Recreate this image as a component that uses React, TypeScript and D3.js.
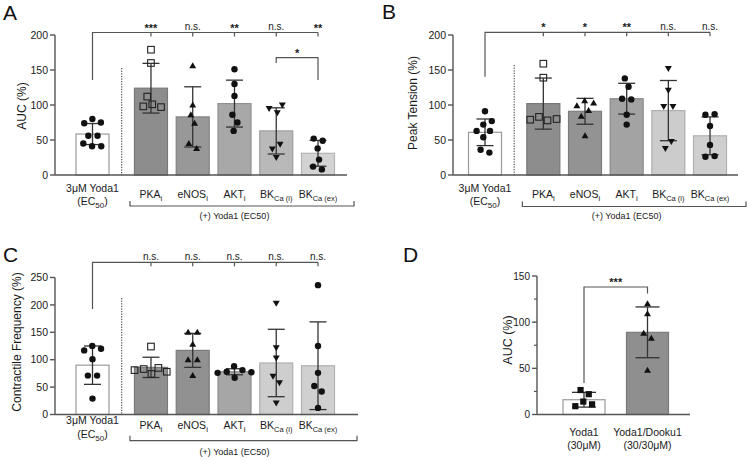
import React from 'react';
import * as d3 from 'd3';

const FONT = "'Liberation Sans', Arial, Helvetica, sans-serif";

// ---------- shared categories (panels A-C) ----------
const catMain = ['PKA', 'eNOS', 'AKT', 'BK', 'BK'];
const catSub = ['i', 'i', 'i', 'Ca (i)', 'Ca (ex)'];
const ctrlLine1 = '3μM Yoda1';
const ctrlLine2 = ['(EC', '50', ')'];
const groupLabel = '(+) Yoda1 (EC50)';
const markersABC = ['circle', 'squareOpen', 'triangle', 'circle', 'triangleDown', 'circle'];

// ---------- Panel A : AUC ----------
const aMeans = [58.5, 124, 83, 102, 63, 31];
const aSD = [15, 35.5, 43, 33.5, 33, 18.5];
const aPts = [
  [80, 74, 75, 56, 56, 41, 45, 41],
  [179, 160, 112, 101, 97, 98],
  [156, 100, 86, 74, 45, 38],
  [151, 130, 113, 86, 75, 63],
  [95, 100, 89, 44, 37, 25],
  [52, 49, 38, 22, 12, 8],
];
const aSig = ['***', 'n.s.', '**', 'n.s.', '**'];
const aTicks = [0, 50, 100, 150, 200];

// ---------- Panel B : Peak Tension ----------
const bMeans = [61, 102, 91, 109, 92, 56];
const bSD = [19, 36.5, 18.5, 22, 43, 27];
const bPts = [
  [91, 77, 72, 63, 63, 54, 32, 36],
  [159, 139, 78, 83, 79, 80],
  [106, 103, 99, 92, 84, 56],
  [138, 126, 109, 108, 86, 72],
  [152, 121, 98, 98, 48, 38],
  [86, 87, 70, 43, 26, 27],
];
const bSig = ['*', '*', '**', 'n.s.', 'n.s.'];
const bTicks = [0, 50, 100, 150, 200];

// ---------- Panel C : Contractile Frequency ----------
const cMeans = [90, 86, 117, 78, 94, 89];
const cSD = [35, 18.5, 31, 5.5, 61.5, 80];
const cPts = [
  [125, 120, 117, 101, 71, 71, 29],
  [124, 85, 74, 83, 78, 81],
  [150, 150, 128, 100, 100, 71],
  [78, 67, 81, 76, 88, 77],
  [203, 122, 103, 70, 58, 21],
  [236, 125, 76, 52, 42, 12],
];
const cSig = ['n.s.', 'n.s.', 'n.s.', 'n.s.', 'n.s.'];
const cTicks = [0, 50, 100, 150, 200, 250];

// ---------- Panel D : AUC ----------
const dCats = ['Yoda1', 'Yoda1/Dooku1'];
const dCats2 = ['(30μM)', '(30/30μM)'];
const dMeans = [16, 89];
const dSD = [8, 27.5];
const dPts = [
  [26.5, 22, 14, 9, 11],
  [120, 109, 88, 82.5, 48],
];
const dSig = '***';
const dTicks = [0, 50, 100, 150];
const dMinor = [25, 75, 125];
const markersD = ['square', 'triangle'];

// ---------- styles ----------
const AXIS = '#555';
const INK = '#111';
const TXT = '#1a1a1a';
const fillsA = ['#ffffff', '#8d8d8d', '#989898', '#a8a8a8', '#b9b9b9', '#d3d3d3'];
const fillsB = ['#ffffff', '#8d8d8d', '#939393', '#a3a3a3', '#cccccc', '#cfcfcf'];
const fillsC = ['#ffffff', '#8f8f8f', '#919191', '#a6a6a6', '#cecece', '#d0d0d0'];
const fillsD = ['#ffffff', '#8f8f8f'];
const slotsABC = [0, 1.4, 2.4, 3.4, 4.4, 5.4];

function strokeFor(fill: string) {
  if (fill === '#ffffff') return '#9a9a9a';
  const c = d3.color(fill)!;
  return c.darker(0.45).formatHex();
}

function swarm(vals: number[], cx: number, y: (v: number) => number, r: number) {
  const nodes: any[] = vals.map((v, i) => ({ i, v, x: cx, y: y(v), fy: y(v) }));
  const sim = d3
    .forceSimulation(nodes)
    .force('x', d3.forceX(cx).strength(0.12))
    .force('c', d3.forceCollide(r))
    .stop();
  for (let k = 0; k < 300; k++) sim.tick();
  return nodes;
}

const triPath = d3.symbol(d3.symbolTriangle, 21)()!;

function Marker({ type, x, y }: { type: string; x: number; y: number }) {
  if (type === 'circle') return <circle cx={x} cy={y} r={3.2} fill={INK} />;
  if (type === 'square') return <rect x={x - 3.1} y={y - 3.1} width={6.2} height={6.2} fill={INK} />;
  if (type === 'squareOpen')
    return <rect x={x - 3.3} y={y - 3.3} width={6.6} height={6.6} fill="none" stroke="#222" strokeWidth={1.1} />;
  if (type === 'triangle') return <path d={triPath} transform={`translate(${x},${y + 0.5})`} fill={INK} />;
  return <path d={triPath} transform={`translate(${x},${y - 0.5}) rotate(180)`} fill={INK} />;
}

function BarsAndPoints({ means, sd, pts, xs, bw, y, y0, fills, markers, cap }: any) {
  return (
    <g>
      {means.map((m: number, i: number) => (
        <rect key={'b' + i} x={xs[i] - bw / 2} y={y(m)} width={bw} height={y0 - y(m)} fill={fills[i]} stroke={strokeFor(fills[i])} strokeWidth={1.2} />
      ))}
      {means.map((m: number, i: number) => {
        const t = y(m + sd[i]);
        const b = y(Math.max(0, m - sd[i]));
        return (
          <g key={'e' + i} stroke="#333" strokeWidth={1.3}>
            <line x1={xs[i]} x2={xs[i]} y1={t} y2={b} />
            <line x1={xs[i] - cap / 2} x2={xs[i] + cap / 2} y1={t} y2={t} />
            <line x1={xs[i] - cap / 2} x2={xs[i] + cap / 2} y1={b} y2={b} />
          </g>
        );
      })}
      {pts.map((vals: number[], i: number) =>
        swarm(vals, xs[i], y, 4.6).map((n: any, j: number) => <Marker key={i + '-' + j} type={markers[i]} x={n.x} y={n.y} />)
      )}
    </g>
  );
}

function YAxis({ ticks, minor, y, axisX, y0, fontSize }: any) {
  const top = y(ticks[ticks.length - 1]);
  return (
    <g>
      <line x1={axisX} x2={axisX} y1={top} y2={y0} stroke={AXIS} strokeWidth={1.4} />
      {ticks.map((t: number) => (
        <g key={t}>
          <line x1={axisX - 5} x2={axisX} y1={y(t)} y2={y(t)} stroke={AXIS} strokeWidth={1.4} />
          <text x={axisX - 7} y={y(t)} dy="0.35em" textAnchor="end" fontSize={fontSize} fill={TXT}>
            {t}
          </text>
        </g>
      ))}
      {(minor || []).map((t: number) => (
        <line key={'m' + t} x1={axisX - 3} x2={axisX} y1={y(t)} y2={y(t)} stroke={AXIS} strokeWidth={1.2} />
      ))}
    </g>
  );
}

function SigText({ x, y, s }: any) {
  const star = s !== 'n.s.';
  return (
    <text x={x} y={star ? y + 1.5 : y} textAnchor="middle" fontSize={star ? 11 : 10} fontWeight={star ? 'bold' : 'normal'} fill={TXT}>
      {s}
    </text>
  );
}

function PanelABC({ cfg }: any) {
  const y = d3.scaleLinear().domain([0, cfg.yMax]).range([cfg.y0, cfg.yTop]);
  const x = d3.scaleLinear().domain([0, 1]).range([cfg.xFirst, cfg.xFirst + cfg.step]);
  const xs = slotsABC.map((s) => x(s));
  const sigY = cfg.sigY;
  return (
    <g>
      <text x={cfg.letterX} y={cfg.letterY} fontSize={21} fill="#111">
        {cfg.letter}
      </text>
      <YAxis ticks={cfg.ticks} y={y} axisX={cfg.axisX} y0={cfg.y0} fontSize={10.5} />
      <text transform={`translate(${cfg.ylabX},${cfg.ylabY}) rotate(-90)`} textAnchor="middle" dy="0.35em" fontSize={12} fill={TXT}>
        {cfg.ylab}
      </text>
      <BarsAndPoints means={cfg.means} sd={cfg.sd} pts={cfg.pts} xs={xs} bw={33} y={y} y0={cfg.y0} fills={cfg.fills} markers={markersABC} cap={17} />
      <line x1={cfg.axisX} x2={cfg.xEnd} y1={cfg.y0} y2={cfg.y0} stroke={AXIS} strokeWidth={1.5} />
      <line x1={x(0.7)} x2={x(0.7)} y1={cfg.dotTop} y2={cfg.y0} stroke="#333" strokeWidth={1} strokeDasharray="1.3,1.3" />
      {/* significance bracket */}
      <g stroke={AXIS} strokeWidth={1.2} fill="none">
        <path d={`M${xs[0]},${cfg.sigLeftBottom}V${sigY}H${xs[5]}`} />
        {xs.slice(1).map((xx, i) => (
          <line key={i} x1={xx} x2={xx} y1={sigY} y2={sigY + 4} />
        ))}
      </g>
      {cfg.sig.map((s: string, i: number) => (
        <SigText key={i} x={xs[i + 1]} y={sigY - 2.5} s={s} />
      ))}
      {cfg.extra && (
        <g>
          <path d={`M${xs[4]},${cfg.extra.lb}V${cfg.extra.y}H${xs[5]}V${cfg.extra.rb}`} stroke={AXIS} strokeWidth={1.2} fill="none" />
          <SigText x={(xs[4] + xs[5]) / 2} y={cfg.extra.y - 2.5} s={cfg.extra.label} />
        </g>
      )}
      {/* x labels */}
      <text x={xs[0]} y={cfg.l1} textAnchor="middle" fontSize={10.5} fill={TXT}>
        {ctrlLine1}
      </text>
      <text x={xs[0]} y={cfg.l2} textAnchor="middle" fontSize={10.5} fill={TXT}>
        <tspan>{ctrlLine2[0]}</tspan>
        <tspan dy={3} fontSize={8}>{ctrlLine2[1]}</tspan>
        <tspan dy={-3}>{ctrlLine2[2]}</tspan>
      </text>
      {catMain.map((c, i) => (
        <text key={c + i} x={xs[i + 1]} y={cfg.lc} textAnchor="middle" fontSize={10.5} fill={TXT}>
          <tspan>{c}</tspan>
          <tspan dy={3} fontSize={catSub[i].length > 1 ? 7.5 : 8}>{catSub[i]}</tspan>
        </text>
      ))}
      <path d={`M${xs[1] - 21},${cfg.brY - 5}V${cfg.brY}H${xs[5] + cfg.brRight}V${cfg.brY - 5}`} stroke={AXIS} strokeWidth={1.2} fill="none" />
      <text x={(xs[1] + xs[5]) / 2} y={cfg.gl} textAnchor="middle" fontSize={9} fill={TXT}>
        {groupLabel}
      </text>
    </g>
  );
}

function PanelD() {
  const y0 = 414.5;
  const y = d3.scaleLinear().domain([0, 150]).range([y0, 276]);
  const x = d3.scaleLinear().domain([0, 1]).range([584, 647.5]);
  const xs = [x(0), x(1)];
  const axisX = 537;
  return (
    <g>
      <text x={403} y={262} fontSize={21} fill="#111">D</text>
      <YAxis ticks={dTicks} minor={dMinor} y={y} axisX={axisX} y0={y0} fontSize={10} />
      <text transform={`translate(${508},${340}) rotate(-90)`} textAnchor="middle" dy="0.35em" fontSize={12.5} fill={TXT}>
        AUC (%)
      </text>
      <BarsAndPoints means={dMeans} sd={dSD} pts={dPts} xs={xs} bw={42} y={y} y0={y0} fills={fillsD} markers={markersD} cap={24} />
      <line x1={axisX} x2={690} y1={y0} y2={y0} stroke={AXIS} strokeWidth={1.5} />
      <path d={`M${xs[0]},383V287H${xs[1]}V293.5`} stroke={AXIS} strokeWidth={1.2} fill="none" />
      <SigText x={(xs[0] + xs[1]) / 2} y={284} s={dSig} />
      {dCats.map((c, i) => (
        <g key={c}>
          <text x={xs[i]} y={436} textAnchor="middle" fontSize={10.5} fill={TXT}>{c}</text>
          <text x={xs[i]} y={448.5} textAnchor="middle" fontSize={10.5} fill={TXT}>{dCats2[i]}</text>
        </g>
      ))}
    </g>
  );
}

export default function App() {
  const cfgA = {
    letter: 'A', letterX: 3, letterY: 20,
    means: aMeans, sd: aSD, pts: aPts, sig: aSig, ticks: aTicks, yMax: 200,
    axisX: 55, y0: 175, yTop: 35, xFirst: 92.5, step: 41.76, xEnd: 347, dotTop: 68,
    ylab: 'AUC (%)', ylabX: 22, ylabY: 106, fills: fillsA,
    sigY: 32.5, sigLeftBottom: 80,
    extra: { y: 57.7, lb: 63, rb: 80, label: '*' },
    l1: 191.5, l2: 205, lc: 197.5, brY: 206, brRight: 36, gl: 218.5,
  };
  const cfgB = {
    letter: 'B', letterX: 382, letterY: 19,
    means: bMeans, sd: bSD, pts: bPts, sig: bSig, ticks: bTicks, yMax: 200,
    axisX: 453, y0: 175, yTop: 35, xFirst: 485, step: 41.67, xEnd: 738, dotTop: 65,
    ylab: 'Peak Tension (%)', ylabX: 413, ylabY: 103, fills: fillsB,
    sigY: 32.3, sigLeftBottom: 76.7,
    l1: 191.5, l2: 205, lc: 197.5, brY: 206.5, brRight: 36, gl: 218.5,
  };
  const cfgC = {
    letter: 'C', letterX: 3, letterY: 262,
    means: cMeans, sd: cSD, pts: cPts, sig: cSig, ticks: cTicks, yMax: 250,
    axisX: 55, y0: 414.5, yTop: 277.5, xFirst: 92.5, step: 41.76, xEnd: 358, dotTop: 298,
    ylab: 'Contractile Frequency (%)', ylabX: 17, ylabY: 342, fills: fillsC,
    sigY: 262.3, sigLeftBottom: 309,
    l1: 424, l2: 438, lc: 429, brY: 440.7, brRight: 39, gl: 455,
  };
  return (
    <svg width={750} height={460} style={{ position: 'absolute', left: 0, top: 0, background: '#fff' }} fontFamily={FONT}>
      <rect width={750} height={460} fill="#fff" />
      <PanelABC cfg={cfgA} />
      <PanelABC cfg={cfgB} />
      <PanelABC cfg={cfgC} />
      <PanelD />
    </svg>
  );
}
